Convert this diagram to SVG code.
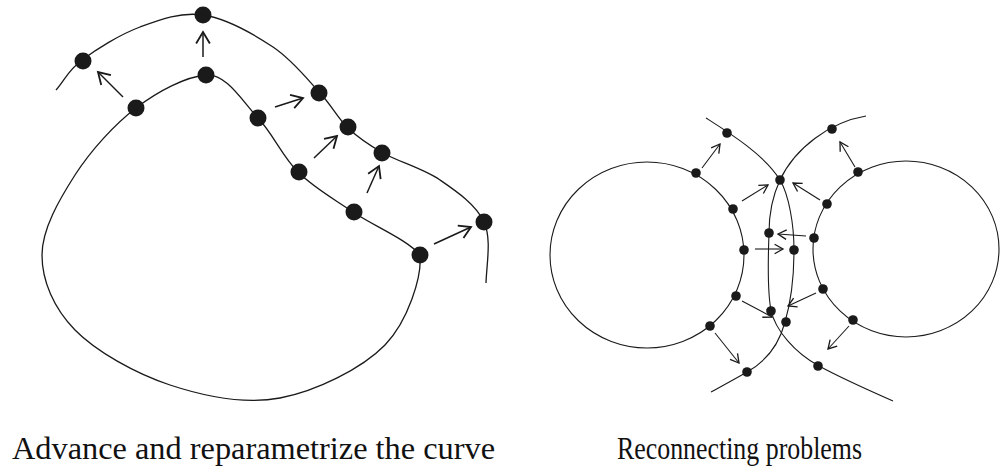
<svg xmlns="http://www.w3.org/2000/svg" width="1004" height="468" viewBox="0 0 1004 468">
<style>
.cl{fill:none;stroke:#1a1a1a;stroke-width:1.3}
.cr{fill:none;stroke:#1a1a1a;stroke-width:1.1}
.al{fill:none;stroke:#1a1a1a;stroke-width:1.5;marker-end:url(#hl)}
.ar{fill:none;stroke:#1a1a1a;stroke-width:1.1;marker-end:url(#hr)}
.dl{fill:#1a1a1a}
.t{font-family:"Liberation Serif","DejaVu Serif",serif;font-size:32px;fill:#111}
</style>
<defs>
<marker id="hl" markerUnits="userSpaceOnUse" markerWidth="16" markerHeight="16" refX="11" refY="7" orient="auto" viewBox="0 0 14 14">
<path d="M1,1 L11,7 L1,13" fill="none" stroke="#1a1a1a" stroke-width="1.6"/>
</marker>
<marker id="hr" markerUnits="userSpaceOnUse" markerWidth="12" markerHeight="12" refX="8" refY="5" orient="auto" viewBox="0 0 10 10">
<path d="M1,1 L8,5 L1,9" fill="none" stroke="#1a1a1a" stroke-width="1.1"/>
</marker>
</defs>

<g id="left-curves">
<path id="inner-curve" class="cl" d="M420,255 C422,277 408,321 385,345 C361.7,368.8 315.8,391.3 280,398 C244.2,404.7 204.2,396.3 170,385 C135.8,373.7 96.3,351.7 75,330 C53.7,308.3 42,280.8 42,255 C42,229.2 59.3,199.5 75,175 C90.7,150.5 114.2,124.7 136,108 C157.8,91.3 185.7,76.7 206,75 C226.3,73.3 242.7,101.8 258,118 C273.3,134.2 282.2,156.3 298,172 C313.8,187.7 332.7,198.2 353,212 C373.3,225.8 408,240 420,255 Z"/>
<path id="outer-curve" class="cl" d="M56,90 C64.7,80 68,70.5 82,60 C96,49.5 119.8,34.5 140,27 C160.2,19.5 180.8,11.7 203,15 C225.2,18.3 253.5,34 273,47 C292.5,60 307.5,79.5 320,93 C332.5,106.5 337.5,118 348,128 C358.5,138 367.7,144.3 383,153 C398.3,161.7 423.2,168.5 440,180 C456.8,191.5 476.3,204.8 484,222 C491.7,239.2 486.7,262.7 486,283"/>
</g>

<g id="left-connectors">
<line class="al" x1="123" y1="97" x2="98" y2="72"/>
<line class="al" x1="203" y1="57" x2="203" y2="32"/>
<line class="al" x1="275" y1="107" x2="303" y2="98"/>
<line class="al" x1="314" y1="158" x2="337" y2="136"/>
<line class="al" x1="367" y1="193" x2="379" y2="166"/>
<line class="al" x1="434" y1="244" x2="471" y2="227"/>
</g>

<g id="left-nodes">
<circle id="n-q1" class="dl" cx="83" cy="61" r="8.5"/>
<circle id="n-q2" class="dl" cx="203" cy="15" r="8.5"/>
<circle id="n-q3" class="dl" cx="319" cy="93" r="8.5"/>
<circle id="n-q4" class="dl" cx="348" cy="127" r="8.5"/>
<circle id="n-q5" class="dl" cx="382" cy="153" r="8.5"/>
<circle id="n-q6" class="dl" cx="484" cy="222" r="8.5"/>
<circle id="n-p1" class="dl" cx="136" cy="108" r="8.5"/>
<circle id="n-p2" class="dl" cx="206" cy="75" r="8.5"/>
<circle id="n-p3" class="dl" cx="258" cy="118" r="8.5"/>
<circle id="n-p4" class="dl" cx="299" cy="172" r="8.5"/>
<circle id="n-p5" class="dl" cx="354" cy="212" r="8.5"/>
<circle id="n-p6" class="dl" cx="420" cy="255" r="8.5"/>
</g>

<g id="right-curves">
<ellipse id="left-circle" class="cr" cx="647" cy="255" rx="97" ry="93"/>
<ellipse id="right-circle" class="cr" cx="906" cy="249" rx="93" ry="88"/>
<path id="front-left" class="cr" d="M706,118 C728,132 765,155 780,180 C789,195 794,225 794,250 C794,280 790,305 785,322 C779,345 765,362 747,372 C735,379 722,386 711,392"/>
<path id="front-right" class="cr" d="M866,116 C830,122 795,148 780,180 C773,195 769,215 769,233 C768,260 767,290 771,310 C775,330 795,353 819,366 C843,379 868,390 893,401"/>
</g>

<g id="right-connectors">
<line class="ar" x1="702" y1="168" x2="720" y2="144"/>
<line class="ar" x1="742" y1="201" x2="768" y2="185"/>
<line class="ar" x1="755" y1="249" x2="783" y2="249"/>
<line class="ar" x1="742" y1="301" x2="772" y2="317"/>
<line class="ar" x1="715" y1="333" x2="739" y2="363"/>
<line class="ar" x1="855" y1="167" x2="840" y2="142"/>
<line class="ar" x1="820" y1="200" x2="793" y2="183"/>
<line class="ar" x1="806" y1="236" x2="778" y2="234"/>
<line class="ar" x1="816" y1="293" x2="788" y2="306"/>
<line class="ar" x1="849" y1="326" x2="828" y2="349"/>
</g>

<g id="right-nodes">
<circle id="r-a1" class="dl" cx="696" cy="173" r="4.8"/>
<circle id="r-a2" class="dl" cx="733" cy="209" r="4.8"/>
<circle id="r-a3" class="dl" cx="744" cy="250" r="4.8"/>
<circle id="r-a4" class="dl" cx="736" cy="296" r="4.8"/>
<circle id="r-a5" class="dl" cx="710" cy="326" r="4.8"/>
<circle id="r-b1" class="dl" cx="858" cy="172" r="4.8"/>
<circle id="r-b2" class="dl" cx="827" cy="204" r="4.8"/>
<circle id="r-b3" class="dl" cx="814" cy="238" r="4.8"/>
<circle id="r-b4" class="dl" cx="823" cy="289" r="4.8"/>
<circle id="r-b5" class="dl" cx="853" cy="320" r="4.8"/>
<circle id="r-c1" class="dl" cx="727" cy="133" r="4.8"/>
<circle id="r-c2" class="dl" cx="780" cy="180" r="4.8"/>
<circle id="r-c3" class="dl" cx="832" cy="129" r="4.8"/>
<circle id="r-c4" class="dl" cx="769" cy="233" r="4.8"/>
<circle id="r-c5" class="dl" cx="794" cy="250" r="4.8"/>
<circle id="r-c6" class="dl" cx="771" cy="311" r="4.8"/>
<circle id="r-c7" class="dl" cx="786" cy="322" r="4.8"/>
<circle id="r-c8" class="dl" cx="747" cy="372" r="4.8"/>
<circle id="r-c9" class="dl" cx="818" cy="366" r="4.8"/>
</g>

<g id="captions">
<text class="t" x="12" y="459" textLength="483" lengthAdjust="spacingAndGlyphs">Advance and reparametrize the curve</text>
<text class="t" x="617" y="459" textLength="245" lengthAdjust="spacingAndGlyphs">Reconnecting problems</text>
</g>
</svg>
